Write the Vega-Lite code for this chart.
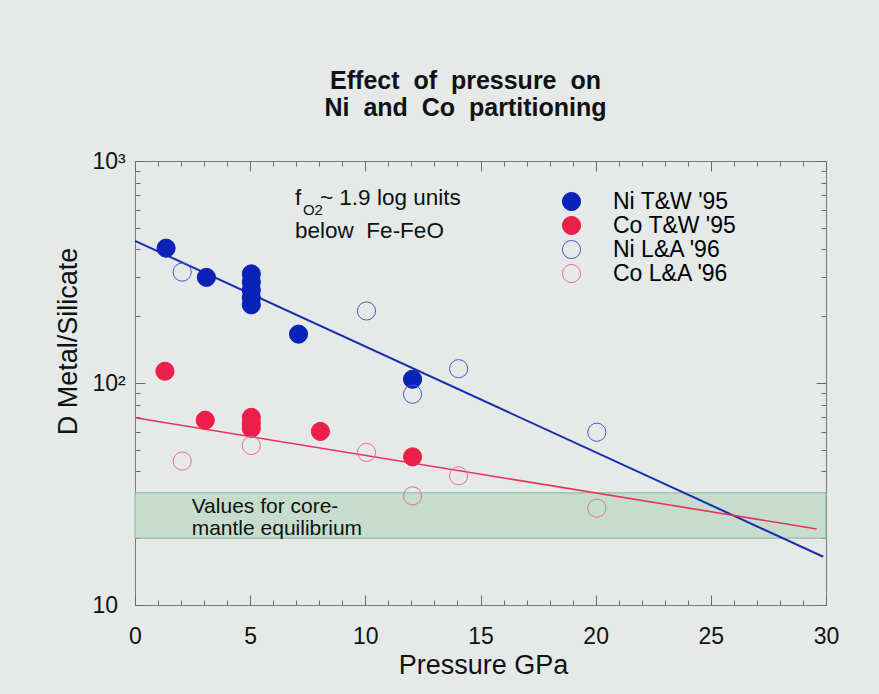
{
  "$schema": "https://vega.github.io/schema/vega-lite/v6.json",
  "autosize": {"type": "none"},
  "width": 691,
  "height": 444,
  "padding": {"left": 135, "top": 161, "right": 53, "bottom": 89},
  "background": "#e5e9e8",
  "config": {
    "view": {"stroke": "#7a7a7a", "strokeWidth": 1},
    "font": "Liberation Sans"
  },
  "title": {
    "text": ["Effect\u00a0 of\u00a0 pressure\u00a0 on", "Ni\u00a0 and\u00a0 Co\u00a0 partitioning"],
    "font": "Liberation Sans",
    "fontSize": 25,
    "fontWeight": "bold",
    "color": "#111111",
    "anchor": "middle",
    "dx": -15,
    "offset": 29,
    "lineHeight": 27
  },
  "datasets": {
    "band": [{"p": 0, "p2": 30, "d": 20, "d2": 32}],
    "niLine": [{"p": 0, "d": 437}, {"p": 29.88, "d": 16.5}],
    "coLine": [{"p": 0, "d": 69.7}, {"p": 29.6, "d": 22.0}],
    "points": [
      {"series": "Ni T&W '95", "p": 1.35, "d": 405},
      {"series": "Ni T&W '95", "p": 3.1, "d": 299},
      {"series": "Ni T&W '95", "p": 5.05, "d": 310},
      {"series": "Ni T&W '95", "p": 5.05, "d": 285},
      {"series": "Ni T&W '95", "p": 5.05, "d": 262},
      {"series": "Ni T&W '95", "p": 5.05, "d": 242},
      {"series": "Ni T&W '95", "p": 5.05, "d": 225},
      {"series": "Ni T&W '95", "p": 7.1, "d": 166},
      {"series": "Ni T&W '95", "p": 12.05, "d": 104},
      {"series": "Co T&W '95", "p": 1.3, "d": 113},
      {"series": "Co T&W '95", "p": 3.05, "d": 68},
      {"series": "Co T&W '95", "p": 5.05, "d": 70},
      {"series": "Co T&W '95", "p": 5.05, "d": 66},
      {"series": "Co T&W '95", "p": 5.05, "d": 62.5},
      {"series": "Co T&W '95", "p": 8.05, "d": 60.5},
      {"series": "Co T&W '95", "p": 12.05, "d": 46.5},
      {"series": "Ni L&A '96", "p": 2.05, "d": 316},
      {"series": "Ni L&A '96", "p": 10.05, "d": 211},
      {"series": "Ni L&A '96", "p": 14.05, "d": 116},
      {"series": "Ni L&A '96", "p": 12.05, "d": 89},
      {"series": "Ni L&A '96", "p": 20.05, "d": 60},
      {"series": "Co L&A '96", "p": 2.05, "d": 44.5},
      {"series": "Co L&A '96", "p": 5.05, "d": 52.3},
      {"series": "Co L&A '96", "p": 10.05, "d": 48.7},
      {"series": "Co L&A '96", "p": 12.05, "d": 31},
      {"series": "Co L&A '96", "p": 14.05, "d": 38.2},
      {"series": "Co L&A '96", "p": 20.05, "d": 27.3}
    ],
    "fMain": [{"p": 6.95, "d": 634, "t": "f"}, {"p": 8.03, "d": 634, "t": "~ 1.9 log units"}, {"p": 6.95, "d": 450, "t": "below \u00a0Fe-FeO"}],
    "fSub": [{"p": 7.29, "d": 571, "t": "O2"}],
    "bandText": [{"p": 2.46, "d": 25.9, "t": "Values for core-"}, {"p": 2.46, "d": 20.6, "t": "mantle equilibrium"}]
  },
  "layer": [
    {
      "data": {"name": "band"},
      "mark": {"type": "rect", "fill": "#c6ddce", "stroke": "#86b898", "strokeWidth": 1},
      "encoding": {
        "x": {
          "field": "p", "type": "quantitative",
          "scale": {"domain": [0, 30], "nice": false, "zero": false},
          "axis": {
            "orient": "bottom",
            "values": [0,1,2,3,4,5,6,7,8,9,10,11,12,13,14,15,16,17,18,19,20,21,22,23,24,25,26,27,28,29,30],
            "labelExpr": "datum.value % 5 === 0 ? datum.label : ''",
            "tickSize": {"condition": {"test": "datum.value % 5 === 0", "value": -10}, "value": -5},
            "tickColor": "#6a6a6a",
            "domain": false, "grid": false,
            "labelFont": "Liberation Sans", "labelFontSize": 23, "labelColor": "#111111",
            "labelPadding": 30, "labelFlush": false, "labelOverlap": false,
            "title": "Pressure GPa", "titleFont": "Liberation Sans", "titleFontSize": 27,
            "titleFontWeight": "normal", "titleColor": "#111111",
            "titleX": 348, "titleY": 68, "titleBaseline": "alphabetic", "titleAlign": "center"
          }
        },
        "x2": {"field": "p2"},
        "y": {
          "field": "d", "type": "quantitative",
          "scale": {"type": "log", "domain": [10, 1000], "nice": false, "zero": false},
          "axis": {
            "orient": "left",
            "values": [10,20,30,40,50,60,70,80,90,100,200,300,400,500,600,700,800,900,1000],
            "labelExpr": "datum.value === 10 ? '10' : datum.value === 100 ? '10²' : datum.value === 1000 ? '10³' : ''",
            "tickSize": {"condition": {"test": "datum.value === 10 || datum.value === 100 || datum.value === 1000", "value": -10}, "value": -5},
            "tickColor": "#6a6a6a",
            "domain": false, "grid": false,
            "labelFont": "Liberation Sans", "labelFontSize": 23, "labelColor": "#111111",
            "labelAlign": "left", "labelBaseline": "middle",
            "labelPadding": 53, "labelFlush": false, "labelOverlap": false,
            "title": "D Metal/Silicate", "titleFont": "Liberation Sans", "titleFontSize": 27,
            "titleFontWeight": "normal", "titleColor": "#111111",
            "titleX": -67, "titleY": 180, "titleAngle": -90, "titleAlign": "center", "titleBaseline": "middle"
          }
        },
        "y2": {"field": "d2"}
      }
    },
    {
      "data": {"name": "niLine"},
      "mark": {"type": "line", "color": "#1a2db0", "strokeWidth": 2},
      "encoding": {
        "x": {
          "field": "p", "type": "quantitative",
          "scale": {"domain": [0, 30], "nice": false, "zero": false},
          "axis": {
            "orient": "top",
            "values": [0,1,2,3,4,5,6,7,8,9,10,11,12,13,14,15,16,17,18,19,20,21,22,23,24,25,26,27,28,29,30],
            "labels": false,
            "tickSize": {"condition": {"test": "datum.value % 5 === 0", "value": -10}, "value": -5},
            "tickColor": "#6a6a6a", "domain": false, "grid": false, "title": null
          }
        },
        "y": {
          "field": "d", "type": "quantitative",
          "scale": {"type": "log", "domain": [10, 1000], "nice": false, "zero": false},
          "axis": {
            "orient": "right",
            "values": [10,20,30,40,50,60,70,80,90,100,200,300,400,500,600,700,800,900,1000],
            "labels": false,
            "tickSize": {"condition": {"test": "datum.value === 10 || datum.value === 100 || datum.value === 1000", "value": -10}, "value": -5},
            "tickColor": "#6a6a6a", "domain": false, "grid": false, "title": null
          }
        }
      }
    },
    {
      "data": {"name": "coLine"},
      "mark": {"type": "line", "color": "#e8345c", "strokeWidth": 1.6},
      "encoding": {
        "x": {"field": "p", "type": "quantitative", "scale": {"domain": [0, 30], "nice": false, "zero": false}, "axis": null},
        "y": {"field": "d", "type": "quantitative", "scale": {"type": "log", "domain": [10, 1000], "nice": false, "zero": false}, "axis": null}
      }
    },
    {
      "data": {"name": "points"},
      "mark": {"type": "point", "shape": "circle", "size": 330, "strokeWidth": 1, "opacity": 1},
      "encoding": {
        "x": {"field": "p", "type": "quantitative", "scale": {"domain": [0, 30], "nice": false, "zero": false}, "axis": null},
        "y": {"field": "d", "type": "quantitative", "scale": {"type": "log", "domain": [10, 1000], "nice": false, "zero": false}, "axis": null},
        "fill": {
          "field": "series", "type": "nominal",
          "scale": {"domain": ["Ni T&W '95", "Co T&W '95", "Ni L&A '96", "Co L&A '96"], "range": ["#0b22b8", "#ec1f4b", "transparent", "transparent"]},
          "legend": {
            "orient": "none", "legendX": 425, "legendY": 29, "title": null,
            "labelFont": "Liberation Sans", "labelFontSize": 23, "labelOffset": 30,
            "symbolSize": 330, "symbolStrokeWidth": 1, "rowPadding": 0,
            "encode": {"labels": {"update": {"fill": {"signal": "indexof(datum.label, 'Ni') === 0 ? '#1b2db5' : '#e8264f'"}}}}
          }
        },
        "stroke": {
          "field": "series", "type": "nominal",
          "scale": {"domain": ["Ni T&W '95", "Co T&W '95", "Ni L&A '96", "Co L&A '96"], "range": ["#0b22b8", "#ec1f4b", "#4a5cc4", "#e87090"]},
          "legend": {
            "orient": "none", "legendX": 425, "legendY": 29, "title": null,
            "labelFont": "Liberation Sans", "labelFontSize": 23, "labelOffset": 30,
            "symbolSize": 330, "symbolStrokeWidth": 1, "rowPadding": 0,
            "encode": {"labels": {"update": {"fill": {"signal": "indexof(datum.label, 'Ni') === 0 ? '#1b2db5' : '#e8264f'"}}}}
          }
        }
      }
    },
    {
      "data": {"name": "fMain"},
      "mark": {"type": "text", "font": "Liberation Sans", "fontSize": 22.5, "align": "left", "baseline": "alphabetic", "color": "#111111"},
      "encoding": {
        "x": {"field": "p", "type": "quantitative", "scale": {"domain": [0, 30], "nice": false, "zero": false}, "axis": null},
        "y": {"field": "d", "type": "quantitative", "scale": {"type": "log", "domain": [10, 1000], "nice": false, "zero": false}, "axis": null},
        "text": {"field": "t"}
      }
    },
    {
      "data": {"name": "fSub"},
      "mark": {"type": "text", "font": "Liberation Sans", "fontSize": 15, "align": "left", "baseline": "alphabetic", "color": "#111111"},
      "encoding": {
        "x": {"field": "p", "type": "quantitative", "scale": {"domain": [0, 30], "nice": false, "zero": false}, "axis": null},
        "y": {"field": "d", "type": "quantitative", "scale": {"type": "log", "domain": [10, 1000], "nice": false, "zero": false}, "axis": null},
        "text": {"field": "t"}
      }
    },
    {
      "data": {"name": "bandText"},
      "mark": {"type": "text", "font": "Liberation Sans", "fontSize": 21, "align": "left", "baseline": "alphabetic", "color": "#111111"},
      "encoding": {
        "x": {"field": "p", "type": "quantitative", "scale": {"domain": [0, 30], "nice": false, "zero": false}, "axis": null},
        "y": {"field": "d", "type": "quantitative", "scale": {"type": "log", "domain": [10, 1000], "nice": false, "zero": false}, "axis": null},
        "text": {"field": "t"}
      }
    }
  ]
}
